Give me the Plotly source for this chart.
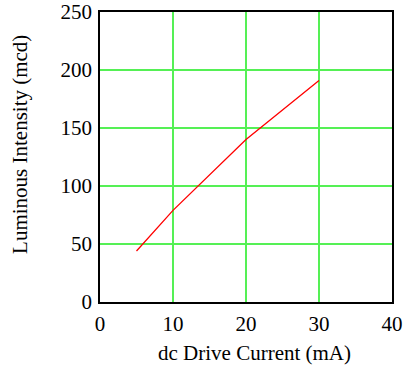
import plotly.graph_objects as go

current_ma = [5, 10, 20, 30]
intensity_mcd = [44, 79, 140, 191]
x_title = "dc Drive Current (mA)"
y_title = "Luminous Intensity (mcd)"

fig = go.Figure()
fig.add_trace(go.Scatter(x=current_ma, y=intensity_mcd, mode="lines",
                         line=dict(color="#ff0000", width=1.3), showlegend=False))

font = dict(family="Liberation Serif, Times New Roman, serif", size=21, color="black")
axis_common = dict(showgrid=True, gridcolor="#55f055", gridwidth=2,
                   showline=True, linecolor="black", linewidth=1.5, mirror=True,
                   zeroline=False, ticks="", tickfont=font, automargin=False,
                   ticklabeloverflow="allow", ticklabelstandoff=2)
fig.update_layout(
    template="none",
    width=409, height=368,
    margin=dict(l=100, r=17, t=12, b=66, pad=0),
    plot_bgcolor="white", paper_bgcolor="white",
    font=font,
    xaxis=dict(range=[0, 40], dtick=10, **axis_common),
    yaxis=dict(range=[0, 250], dtick=50, **axis_common),
    annotations=[
        dict(text=x_title, xref="paper", yref="paper", x=0.529, y=-0.176,
             xanchor="center", yanchor="middle", showarrow=False, font=font),
        dict(text=y_title, xref="paper", yref="paper", x=-0.274, y=0.545,
             xanchor="center", yanchor="middle", showarrow=False, font=font,
             textangle=-90),
    ],
)
fig.write_html("out.html", config={"displayModeBar": False},
               post_script="document.body.style.margin='0';")
